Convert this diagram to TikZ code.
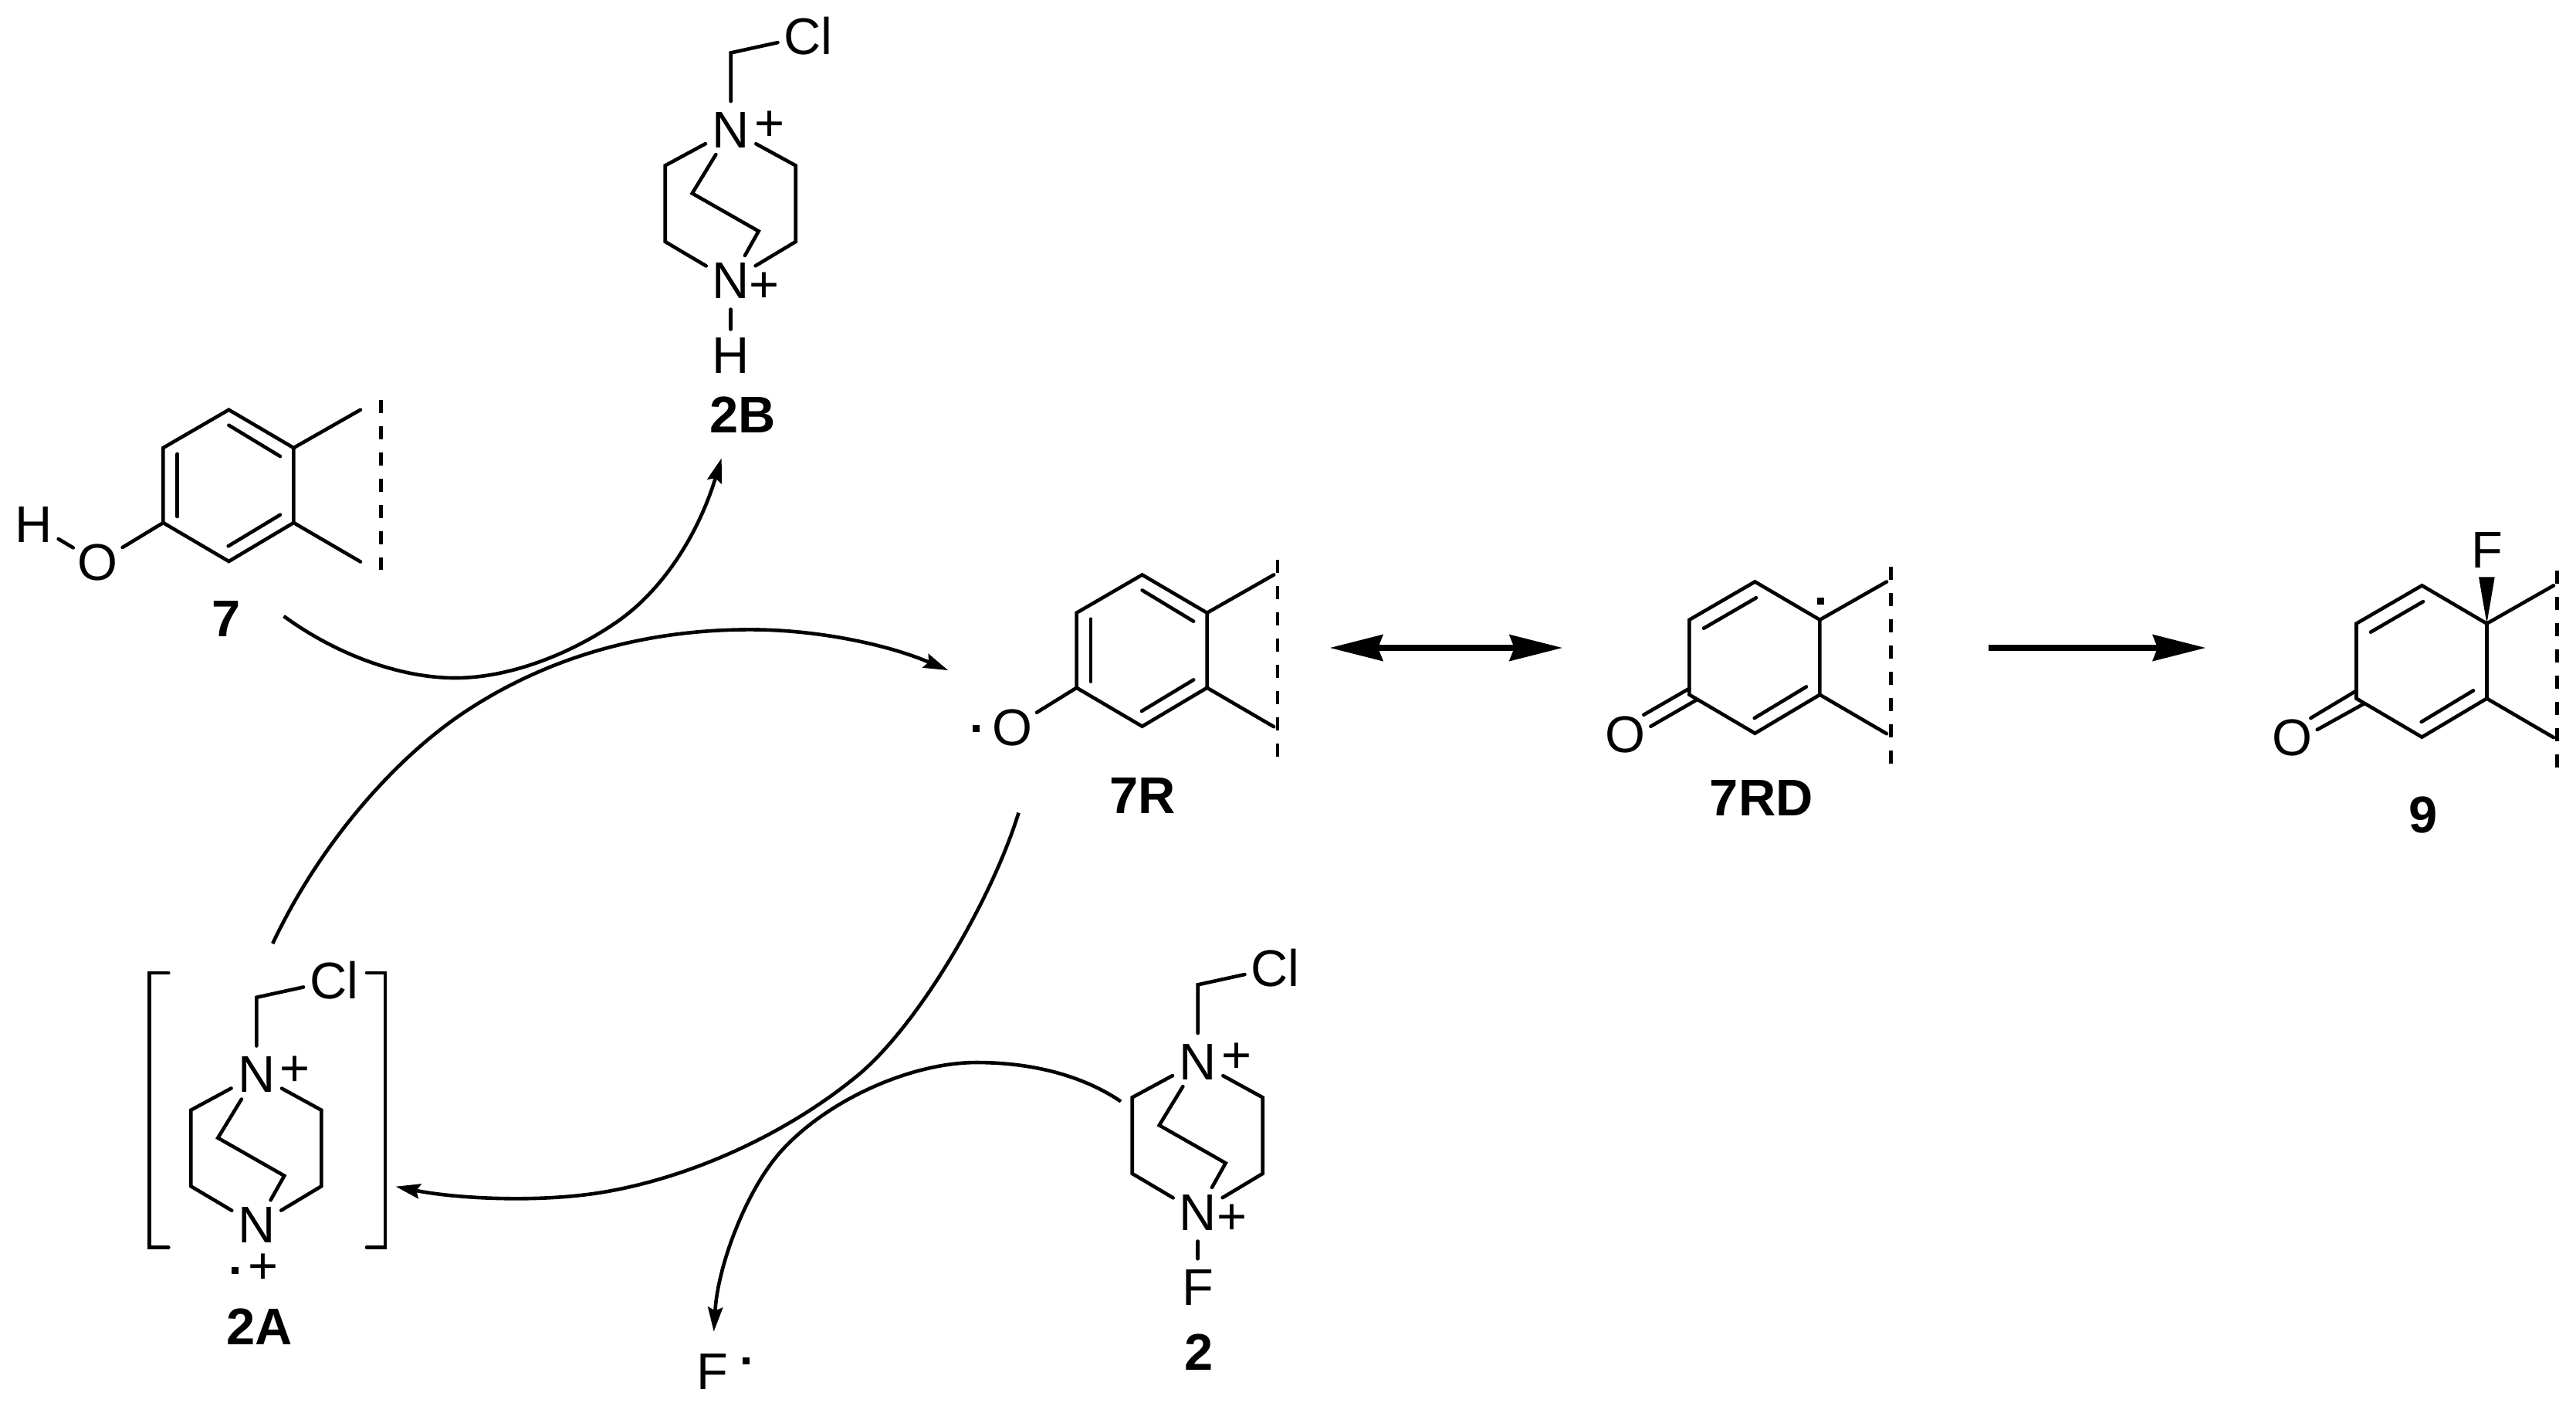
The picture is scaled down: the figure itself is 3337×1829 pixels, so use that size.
\documentclass[tikz,border=0pt]{standalone}
\usepackage{fontspec}
\setmainfont{Liberation Sans}
\usetikzlibrary{arrows.meta}
\tikzset{
	bond/.style={line width=0.046cm, line cap=round},
	cutline/.style={line width=0.048cm, dash pattern=on 0.17cm off 0.17cm},
	atom/.style={circle, inner sep=0pt, minimum size=0.73cm, font=\fontsize{19}{19}\selectfont},
	hatom/.style={atom, minimum size=0.26cm},
	charge/.style={inner sep=0pt, font=\fontsize{19}{19}\selectfont},
	lab/.style={inner sep=0pt, font=\fontsize{19}{19}\selectfont\bfseries},
	rad/.style={fill, inner sep=0pt, minimum size=0.09cm},
	curved/.style={line width=0.046cm, -{Stealth[length=0.32cm, width=0.2cm, inset=0.05cm, line width=0pt]}},
	bigarrow/.style={line width=0.08cm, -{Stealth[length=0.69cm, width=0.35cm, inset=0.07cm, line width=0pt]}},
}
\begin{document}
\begin{tikzpicture}[x=0.01cm, y=-0.01cm]
	\useasboundingbox (0,0) rectangle (3337,1829);
	\foreach \m/\sx/\sy in {phen/0/0, rad/1183.2/213.7, dien/1977/222.7, prod/2841/227.6}{
		\begin{scope}[shift={(\sx,\sy)}]
			\coordinate (\m-1) at (296.4,530.7);
			\coordinate (\m-2) at (380.4,580);
			\coordinate (\m-3) at (380.4,677);
			\coordinate (\m-4) at (296.4,727);
			\coordinate (\m-5) at (211.4,677);
			\coordinate (\m-6) at (211.4,580);
			\coordinate (\m-7) at (467,530.7);
			\coordinate (\m-8) at (467,727.5);
			\coordinate (\m-a) at (296.4,550.7);
			\coordinate (\m-b) at (363,591);
			\coordinate (\m-c) at (229.6,588);
			\coordinate (\m-d) at (229.6,669);
			\coordinate (\m-e) at (295.7,707.3);
			\coordinate (\m-f) at (363,666.7);
			\coordinate (\m-g) at (230,591);
			\coordinate (\m-h) at (298,551.5);
		\end{scope}
		\draw [bond] (\m-1) -- (\m-2) -- (\m-3) -- (\m-4) -- (\m-5) -- (\m-6) -- cycle;
		\draw [bond] (\m-2) -- (\m-7);
		\draw [bond] (\m-3) -- (\m-8);
	}
	\foreach \m in {phen, rad}{
		\draw [bond] (\m-a) -- (\m-b);
		\draw [bond] (\m-c) -- (\m-d);
		\draw [bond] (\m-e) -- (\m-f);
	}
	\foreach \m in {dien, prod}{
		\draw [bond] (\m-g) -- (\m-h);
		\draw [bond] (\m-e) -- (\m-f);
	}
	\coordinate (cut1) at (493.6,518);
	\coordinate (cut2) at (493.6,738);
	\coordinate (cut3) at (1655,725);
	\coordinate (cut4) at (1655,980);
	\coordinate (cut5) at (2449.3,734);
	\coordinate (cut6) at (2449.3,989);
	\coordinate (cut7) at (3312.7,739);
	\coordinate (cut8) at (3312.7,994);
	\draw [cutline] (cut1) -- (cut2);
	\draw [cutline] (cut3) -- (cut4);
	\draw [cutline] (cut5) -- (cut6);
	\draw [cutline] (cut7) -- (cut8);

	\node [atom] (h7) at (43.6,679) {H};
	\node [atom] (o7) at (126.8,728.3) {O};
	\draw [bond] (h7) -- (o7);
	\draw [bond] (o7) -- (phen-5);
	\node [lab] (l7) at (293,801.7) {7};

	\node [atom] (oR) at (1311.4,942.3) {O};
	\node [rad] (dotR) at (1264.3,943.3) {};
	\draw [bond] (oR) -- (rad-5);
	\node [lab] (lR) at (1480,1030) {7R};

	\node [atom] (oD) at (2105.3,951) {O};
	\node [rad] (dotD) at (2358.3,778.3) {};
	\coordinate (d1) at (2188.3,891.7);
	\coordinate (d2) at (2129.3,925.7);
	\coordinate (d3) at (2197.3,906.7);
	\coordinate (d4) at (2138.3,940.7);
	\draw [bond] (d1) -- (d2);
	\draw [bond] (d3) -- (d4);
	\node [lab] (lD) at (2281.7,1033.3) {7RD};

	\node [atom] (oP) at (2969.3,955.7) {O};
	\node [atom] (fP) at (3221.7,712.3) {F};
	\coordinate (p1) at (3051.7,895);
	\coordinate (p2) at (2993.3,930);
	\coordinate (p3) at (3061.7,911.7);
	\coordinate (p4) at (3001.7,945);
	\coordinate (w1) at (3211,747.3);
	\coordinate (w2) at (3231.7,747.3);
	\draw [bond] (p1) -- (p2);
	\draw [bond] (p3) -- (p4);
	\fill (prod-2) -- (w1) -- (w2) -- cycle;
	\node [lab] (lP) at (3139,1055) {9};

	\foreach \m/\sx/\sy in {sel/946.7/168.4, cat/332.3/1391.7, reag/1551.7/1375.3}{
		\begin{scope}[shift={(\sx,\sy)}]
			\node [atom] (\m-n1) at (0,0) {N};
			\node [atom] (\m-n2) at (0,195) {N};
			\node [atom] (\m-cl) at (100.5,-122) {Cl};
			\node [charge] (\m-p) at (50,-5) {+};
			\coordinate (\m-c) at (0,-100);
			\coordinate (\m-l1) at (-85,46);
			\coordinate (\m-l2) at (-85,144.6);
			\coordinate (\m-r1) at (84,46);
			\coordinate (\m-r2) at (84,144.6);
			\coordinate (\m-b1) at (-50,82);
			\coordinate (\m-b2) at (36,131);
		\end{scope}
		\draw [bond] (\m-n1) -- (\m-c) -- (\m-cl);
		\draw [bond] (\m-n1) -- (\m-l1) -- (\m-l2) -- (\m-n2);
		\draw [bond] (\m-n1) -- (\m-r1) -- (\m-r2) -- (\m-n2);
		\draw [bond] (\m-n1) -- (\m-b1) -- (\m-b2) -- (\m-n2);
	}
	\node [charge] (selp) at (990,372) {+};
	\node [hatom] (selh) at (946.7,460.4) {H};
	\draw [bond] (sel-n2) -- (selh);
	\node [lab] (lB) at (961.7,537) {2B};

	\node [charge] (catp) at (341,1643) {+};
	\node [rad] (dotA) at (304.3,1645.7) {};
	\node [lab] (lA) at (336,1718.3) {2A};
	\coordinate (bl1) at (218.3,1260);
	\coordinate (bl2) at (193.3,1260);
	\coordinate (bl3) at (193.3,1615.7);
	\coordinate (bl4) at (218.3,1615.7);
	\coordinate (br1) at (475,1260);
	\coordinate (br2) at (499,1260);
	\coordinate (br3) at (499,1615.7);
	\coordinate (br4) at (475,1615.7);
	\draw [bond] (bl1) -- (bl2) -- (bl3) -- (bl4);
	\draw [bond] (br1) -- (br2) -- (br3) -- (br4);

	\node [charge] (reagp) at (1596,1579) {+};
	\node [atom] (reagf) at (1551.7,1667.4) {F};
	\draw [bond] (reag-n2) -- (reagf);
	\node [lab] (l2) at (1552.7,1751.3) {2};

	\node [atom] (fr) at (922.8,1776.3) {F};
	\node [rad] (dotF) at (966.2,1762.7) {};

	\coordinate (s1) at (1723,839);
	\coordinate (s2) at (2023.7,839);
	\coordinate (s3) at (2576.3,839);
	\coordinate (s4) at (2857,839);
	\draw [bigarrow, {Stealth[length=0.69cm, width=0.35cm, inset=0.07cm, line width=0pt]}-{Stealth[length=0.69cm, width=0.35cm, inset=0.07cm, line width=0pt]}] (s1) -- (s2);
	\draw [bigarrow] (s3) -- (s4);

	\coordinate (a1) at (367.6,798);
	\coordinate (a2) at (934.7,593.5);
	\draw [curved] (a1) .. controls (437.6,849) and (520,878) .. (590,878) .. controls (660,878) and (739,847) .. (799,805.5) .. controls (860,763.4) and (905,690) .. (a2);
	\coordinate (b1) at (353.2,1222);
	\coordinate (b2) at (1228,868);
	\draw [curved] (b1) .. controls (418,1085) and (520,974) .. (609.8,917) .. controls (700,859) and (820,815.4) .. (971.5,815.4) .. controls (1060,815.4) and (1150,835) .. (b2);
	\coordinate (c1) at (1319.5,1052.6);
	\coordinate (c2) at (512.8,1536.7);
	\draw [curved] (c1) .. controls (1285,1165) and (1190,1327) .. (1112,1392) .. controls (1027,1462.5) and (907,1521.5) .. (787,1543) .. controls (700,1558.6) and (590,1552) .. (c2);
	\coordinate (e1) at (1452,1426.5);
	\coordinate (e2) at (924.7,1724.4);
	\draw [curved] (e1) .. controls (1395,1388) and (1325,1376) .. (1265,1376) .. controls (1180,1376) and (1070,1425) .. (1010,1493) .. controls (965,1545) and (930,1640) .. (e2);
\end{tikzpicture}
\end{document}
